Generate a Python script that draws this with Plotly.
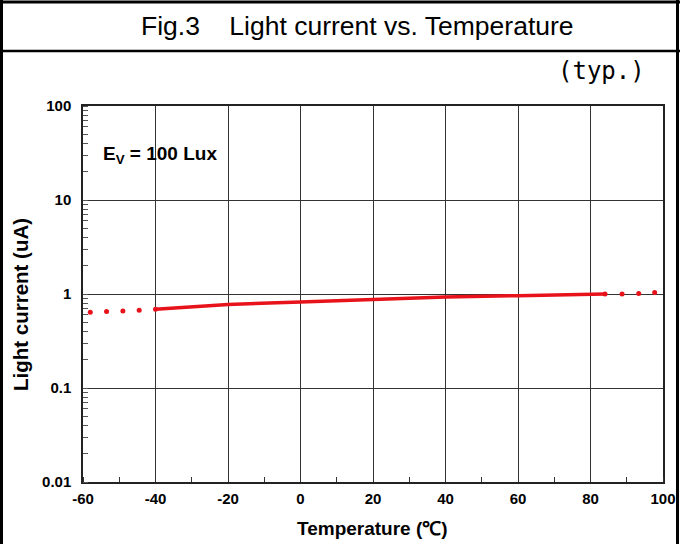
import plotly.graph_objects as go

# ---- data ----
temp_solid = [-40, -20, 0, 20, 40, 60, 80, 84]
curr_solid = [0.69, 0.775, 0.82, 0.875, 0.93, 0.96, 0.99, 1.0]
temp_low = [-58, -53.5, -49, -44.5, -40]
curr_low = [0.64, 0.65, 0.66, 0.67, 0.69]
temp_high = [84, 88.7, 93.3, 97.7]
curr_high = [1.0, 1.0, 1.01, 1.04]

x_ticks = [-60, -40, -20, 0, 20, 40, 60, 80, 100]
x_ticktext = ["-60", "-40", "-20", "0", "20", "40", "60", "80", "100"]
y_ticks = [0.01, 0.1, 1, 10, 100]
y_ticktext = ["0.01", "0.1", "1", "10", "100"]

W, H = 680, 544
L, R, T, B = 83, 17, 106, 62
PW, PH = W - L - R, H - T - B


def px(x):
    return (x - L) / PW


def py(y):
    return (H - B - y) / PH


RED = "#e8121b"
FONT = "Liberation Sans, Arial, sans-serif"

fig = go.Figure()
fig.add_trace(go.Scatter(x=temp_solid, y=curr_solid, mode="lines",
                         line=dict(color=RED, width=3.5), showlegend=False))
fig.add_trace(go.Scatter(x=temp_low, y=curr_low, mode="markers",
                         marker=dict(color=RED, size=5), showlegend=False))
fig.add_trace(go.Scatter(x=temp_high, y=curr_high, mode="markers",
                         marker=dict(color=RED, size=5), showlegend=False))

fig.update_layout(
    width=W, height=H,
    margin=dict(l=L, r=R, t=T, b=B, pad=0),
    paper_bgcolor="white", plot_bgcolor="white",
    font=dict(family=FONT, color="black"),
    xaxis=dict(range=[-60, 100], tickvals=x_ticks, ticktext=x_ticktext,
               showgrid=True, gridcolor="#333333", gridwidth=1,
               showline=True, linecolor="#222222", linewidth=1.5, mirror=True,
               ticks="", zeroline=False, ticklabelstandoff=2, automargin=False,
               tickfont=dict(size=15, weight="bold"),
               minor=dict(dtick=10, ticks="inside", ticklen=5, tickcolor="#333333", showgrid=False)),
    yaxis=dict(type="log", range=[-2, 2], tickvals=y_ticks, ticktext=y_ticktext,
               showgrid=True, gridcolor="#333333", gridwidth=1,
               showline=True, linecolor="#222222", linewidth=1.5, mirror=True,
               ticks="", zeroline=False, ticklabelstandoff=7, automargin=False,
               tickfont=dict(size=15, weight="bold"),
               minor=dict(dtick="D1", ticks="inside", ticklen=5, tickcolor="#555555", showgrid=False)),
    shapes=[
        dict(type="line", xref="paper", yref="paper", x0=px(1.5), x1=px(1.5), y0=py(0), y1=py(H),
             line=dict(color="black", width=3)),
        dict(type="line", xref="paper", yref="paper", x0=px(677.5), x1=px(677.5), y0=py(0), y1=py(H),
             line=dict(color="black", width=3)),
        dict(type="line", xref="paper", yref="paper", x0=px(0), x1=px(W), y0=py(2), y1=py(2),
             line=dict(color="black", width=3)),
        dict(type="line", xref="paper", yref="paper", x0=px(0), x1=px(W), y0=py(51), y1=py(51),
             line=dict(color="black", width=2.5)),
    ],
    annotations=[
        dict(text="Fig.3    Light current vs. Temperature", xref="paper", yref="paper",
             x=px(357), y=py(26), xanchor="center", yanchor="middle", showarrow=False,
             font=dict(size=26.5, family=FONT)),
        dict(text="(typ.)", xref="paper", yref="paper",
             x=px(647), y=py(71), xanchor="right", yanchor="middle", showarrow=False,
             font=dict(size=24, family="DejaVu Sans Mono")),
        dict(text="E<sub>V</sub> = 100 Lux", xref="paper", yref="paper",
             x=px(101), y=py(155), xanchor="left", yanchor="middle", showarrow=False,
             font=dict(size=19, weight="bold")),
        dict(text="Temperature (℃)", xref="paper", yref="paper",
             x=px(372), y=py(528), xanchor="center", yanchor="middle", showarrow=False,
             font=dict(size=19, weight="bold")),
        dict(text="Light current (uA)", xref="paper", yref="paper",
             x=px(20), y=py(305), xanchor="center", yanchor="middle", showarrow=False,
             textangle=-90, font=dict(size=20.5, weight="bold")),
    ],
)

fig.write_html("out.html", config={"displayModeBar": False},
               post_script="document.body.style.margin='0';document.body.style.padding='0';")
